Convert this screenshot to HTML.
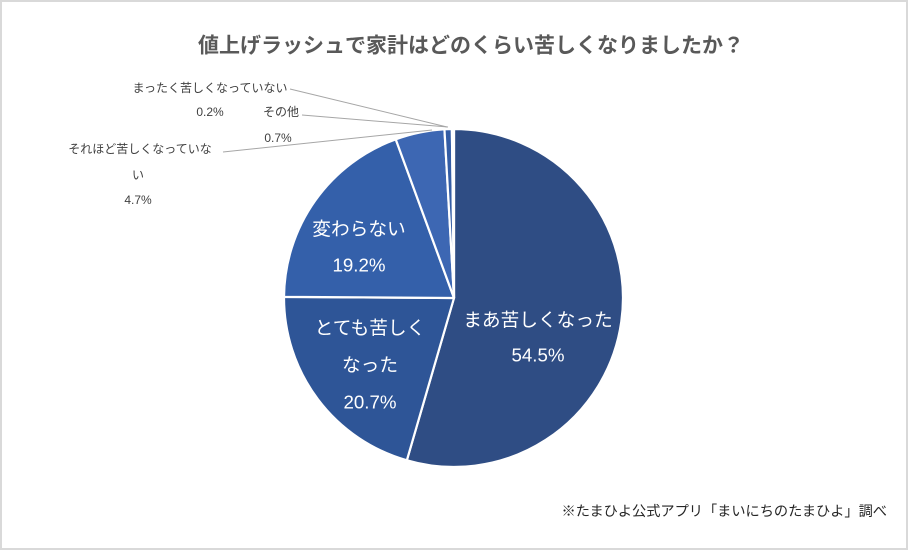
<!DOCTYPE html>
<html>
<head>
<meta charset="utf-8">
<style>
  html,body{margin:0;padding:0;background:#fff;}
  svg{display:block;}
  text{font-family:"Liberation Sans","Noto Sans CJK JP",sans-serif;}
</style>
</head>
<body>
<svg width="909" height="551" viewBox="0 0 909 551" xmlns="http://www.w3.org/2000/svg">
  <rect x="0" y="0" width="909" height="551" fill="#ffffff"/>
  <rect x="1" y="1" width="906" height="548" fill="none" stroke="#d9d9d9" stroke-width="2"/>

  <!-- Title -->
  <text x="471" y="46" text-anchor="middle" dominant-baseline="central" font-size="21" font-weight="bold" fill="#595959">値上げラッシュで家計はどのくらい苦しくなりましたか？</text>

  <!-- Pie -->
  <g stroke="#ffffff" stroke-width="2.2" stroke-linejoin="round">
    <path d="M454,298 L454,129 A169,169 0 1 1 406.85,460.3 Z" fill="#2F4D84"/>
    <path d="M454,298 L406.85,460.3 A169,169 0 0 1 284.01,296.9 Z" fill="#2E5597"/>
    <path d="M454,298 L284.01,296.9 A169,169 0 0 1 395.76,139.36 Z" fill="#3460AA"/>
    <path d="M454,298 L395.76,139.36 A169,169 0 0 1 444.45,129.27 Z" fill="#3D67B3"/>
    <path d="M454,298 L444.45,129.27 A169,169 0 0 1 451.88,129.01 Z" fill="#345DA5"/>
    <path d="M454,298 L451.88,129.01 A169,169 0 0 1 454,129 Z" fill="#4472C4"/>
  </g>

  <!-- Leader lines -->
  <g stroke="#a6a6a6" stroke-width="1" fill="none">
    <polyline points="290,89 447,127"/>
    <polyline points="302,115 448,127"/>
    <polyline points="223,152 432,130"/>
  </g>

  <!-- Inside labels -->
  <g fill="#ffffff" font-size="18.7" text-anchor="middle" dominant-baseline="central">
    <text x="538" y="320">まあ苦しくなった</text>
    <text x="538" y="355">54.5%</text>
    <text x="359" y="229">変わらない</text>
    <text x="359" y="265">19.2%</text>
    <text x="370" y="328">とても苦しく</text>
    <text x="370" y="365">なった</text>
    <text x="370" y="402">20.7%</text>
  </g>

  <!-- Outside labels -->
  <g fill="#404040" font-size="12" text-anchor="middle" dominant-baseline="central">
    <text x="210" y="88">まったく苦しくなっていない</text>
    <text x="210" y="112">0.2%</text>
    <text x="281" y="112">その他</text>
    <text x="278" y="138">0.7%</text>
    <text x="140" y="149">それほど苦しくなっていな</text>
    <text x="138" y="175">い</text>
    <text x="138" y="200">4.7%</text>
  </g>

  <!-- Footer -->
  <text x="887" y="512" text-anchor="end" dominant-baseline="central" font-size="14.2" fill="#262626">※たまひよ公式アプリ「まいにちのたまひよ」調べ</text>
</svg>
</body>
</html>
